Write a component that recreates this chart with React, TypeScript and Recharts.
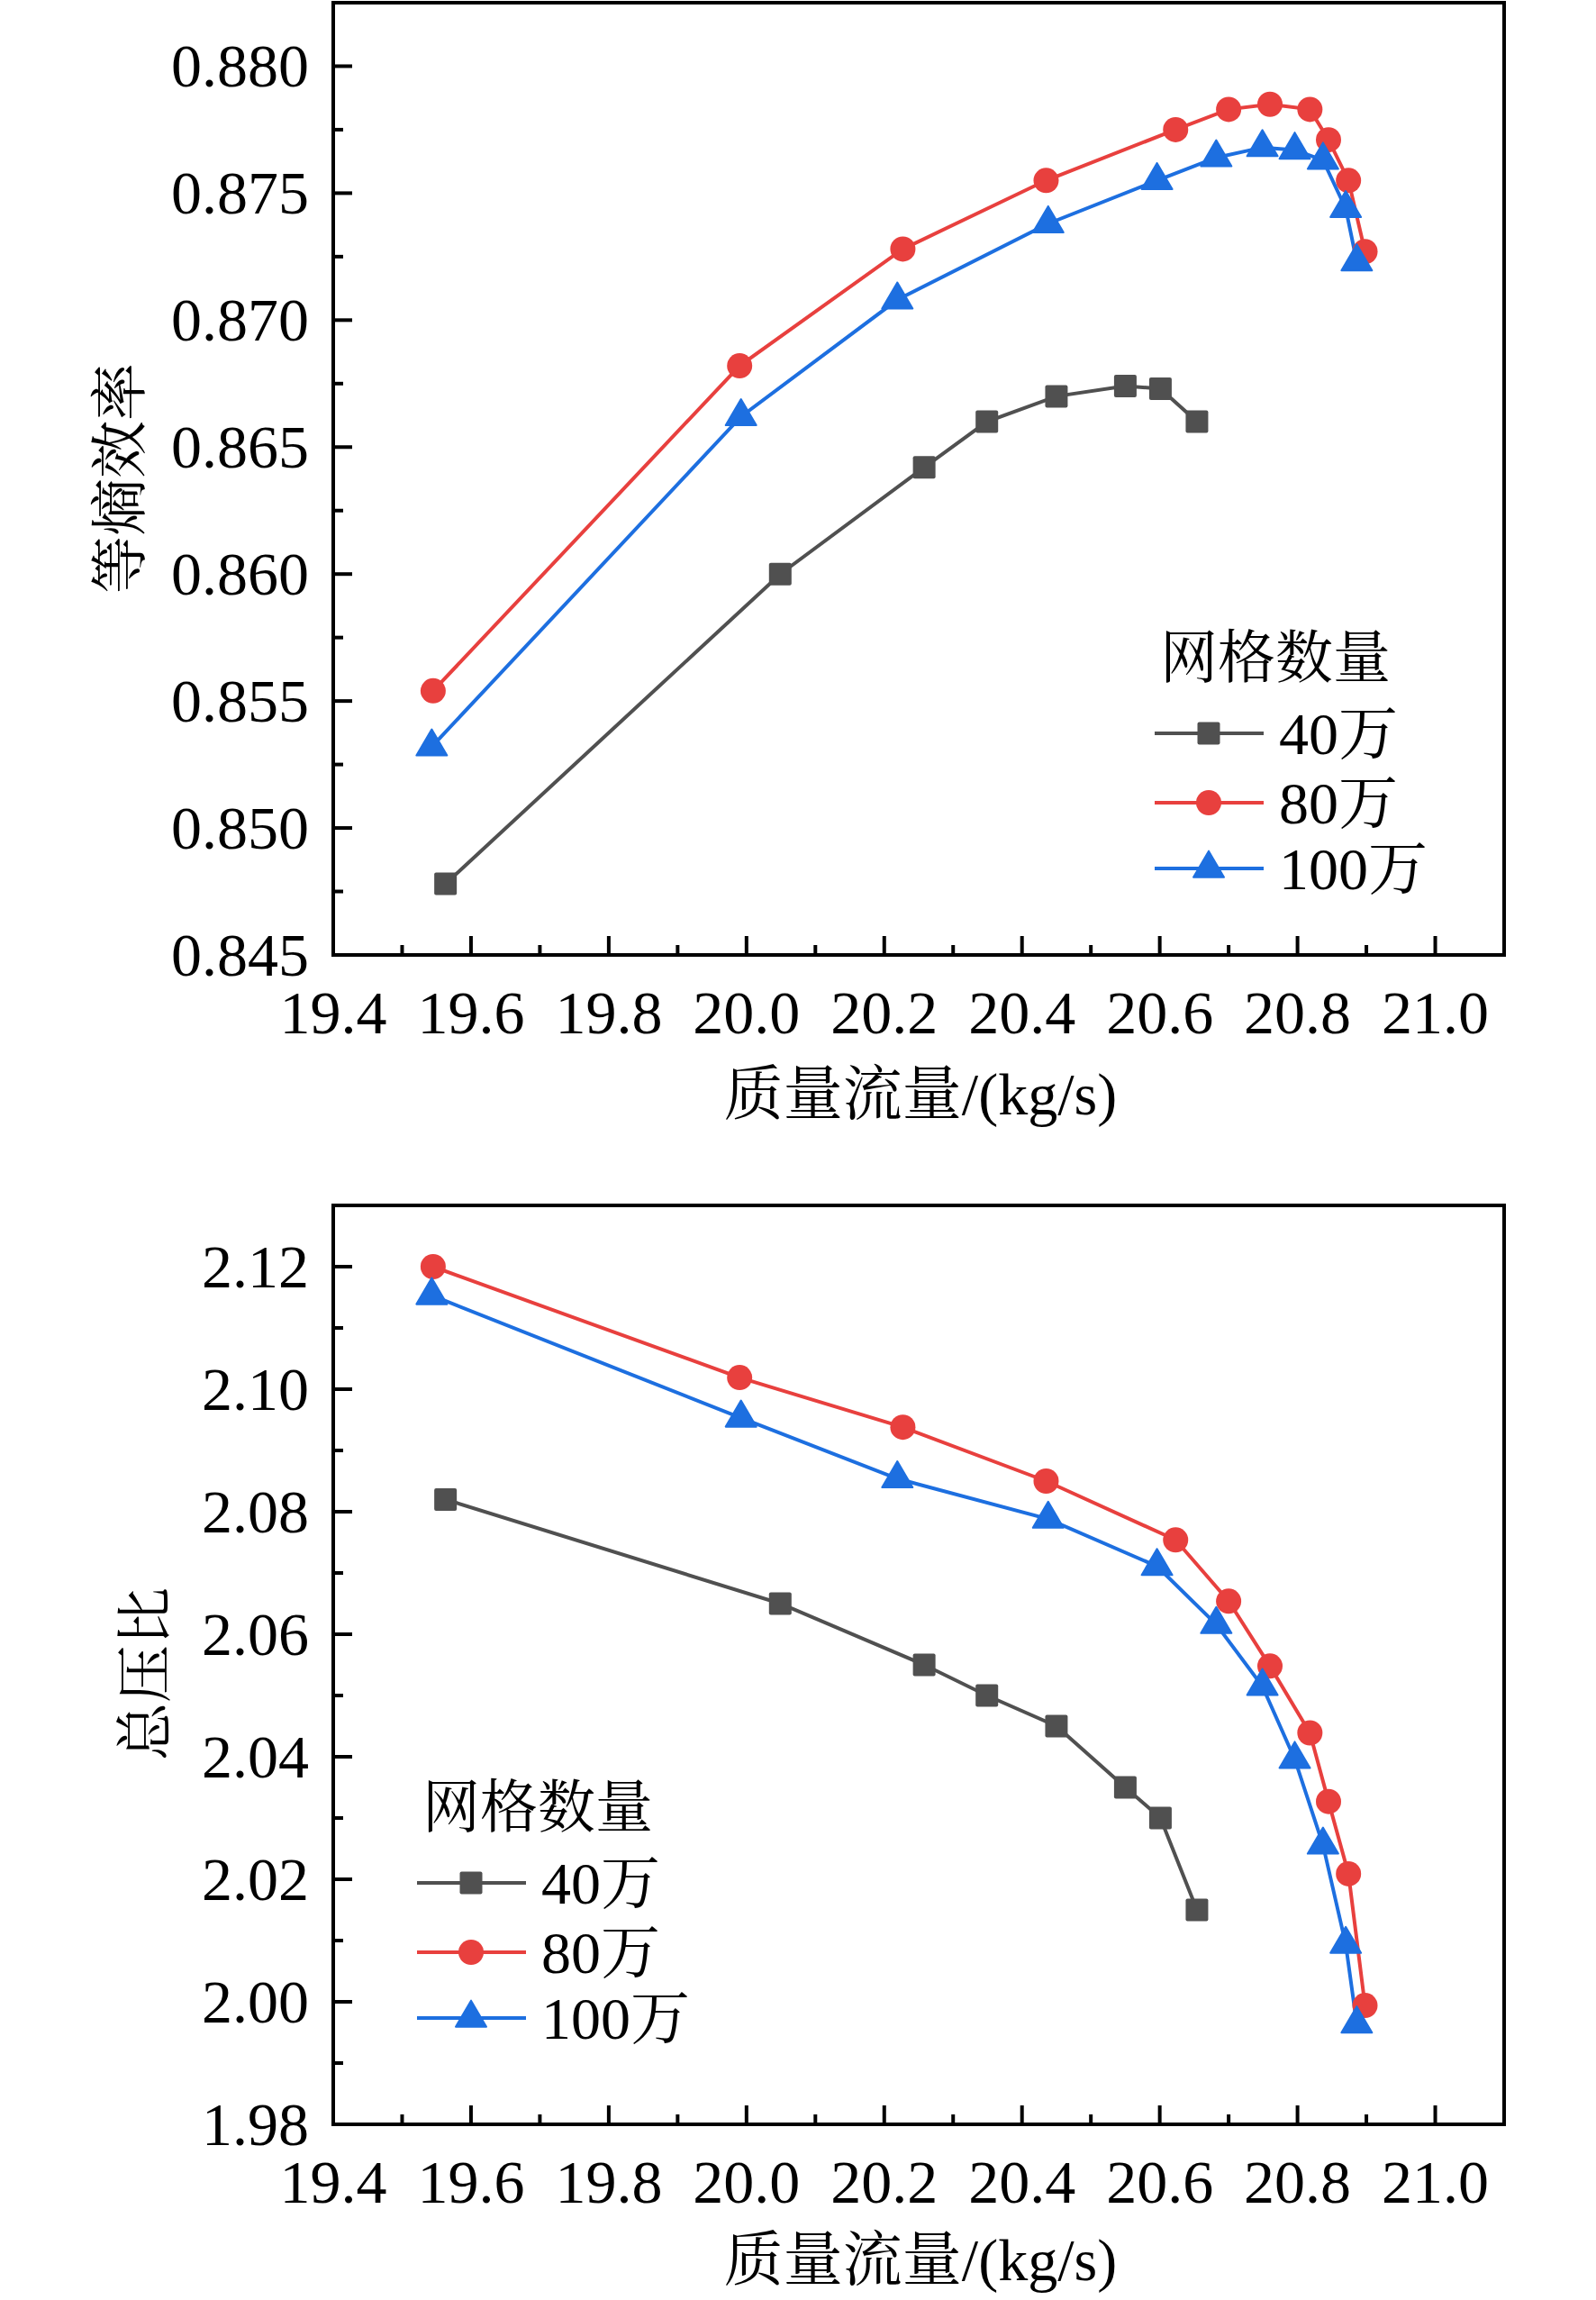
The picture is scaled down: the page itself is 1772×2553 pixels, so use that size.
import React from "react"
import { Line, LineChart, ReferenceArea, XAxis, YAxis } from "recharts"

// 质量流量 (kg/s) 各网格方案
const flow40 = [19.563, 20.049, 20.258, 20.349, 20.45, 20.55, 20.601, 20.654]
const flow80 = [19.545, 19.99, 20.227, 20.435, 20.623, 20.7, 20.76, 20.818, 20.845, 20.874, 20.898]
const flow100 = [19.543, 19.992, 20.219, 20.438, 20.596, 20.682, 20.749, 20.796, 20.837, 20.87, 20.886]

// 等熵效率
const eff40 = [0.8478, 0.86, 0.8642, 0.866, 0.867, 0.8674, 0.8673, 0.866]
const eff80 = [0.8554, 0.8682, 0.8728, 0.8755, 0.8775, 0.8783, 0.8785, 0.8783, 0.8771, 0.8755, 0.8727]
const eff100 = [0.8532, 0.8662, 0.8708, 0.8738, 0.8755, 0.8764, 0.8768, 0.8767, 0.8763, 0.8744, 0.8723]

// 总压比
const pr40 = [2.082, 2.065, 2.055, 2.05, 2.045, 2.035, 2.03, 2.015]
const pr80 = [2.12, 2.1019, 2.0938, 2.085, 2.0754, 2.0654, 2.0548, 2.0439, 2.0327, 2.0209, 1.9994]
const pr100 = [2.1153, 2.0953, 2.0854, 2.0788, 2.0711, 2.0616, 2.0515, 2.0396, 2.0256, 2.0094, 1.9964]

// ticks (major + minor, major on even index)
const xTicks = [19.4, 19.5, 19.6, 19.7, 19.8, 19.9, 20.0, 20.1, 20.2, 20.3, 20.4, 20.5, 20.6, 20.7, 20.8, 20.9, 21.0]
const effTicks = [0.845, 0.8475, 0.85, 0.8525, 0.855, 0.8575, 0.86, 0.8625, 0.865, 0.8675, 0.87, 0.8725, 0.875, 0.8775, 0.88]
const prTicks = [1.98, 1.99, 2.0, 2.01, 2.02, 2.03, 2.04, 2.05, 2.06, 2.07, 2.08, 2.09, 2.1, 2.11, 2.12]

const seriesNames = ["40万", "80万", "100万"]
const legendTitle = "网格数量"

const GRAY = "#505050"
const RED = "#e8403e"
const BLUE = "#1d6fe0"

const NUM_FONT = '"Liberation Serif", "Times New Roman", serif'
const CJK_FONT = '"Liberation Serif", "Noto Serif CJK SC", "Noto Sans CJK SC", serif'

const toPoints = (xs: number[], ys: number[]) => xs.map((x, i) => ({ x, y: ys[i] }))

function Square(props: any) {
  const { cx, cy } = props
  if (cx == null || cy == null) return null
  return <rect x={cx - 12.5} y={cy - 12.5} width={25} height={25} rx={2} fill={GRAY} />
}

function Circle(props: any) {
  const { cx, cy } = props
  if (cx == null || cy == null) return null
  return <circle cx={cx} cy={cy} r={14} fill={RED} />
}

function Triangle(props: any) {
  const { cx, cy } = props
  if (cx == null || cy == null) return null
  const w = 34
  const h = 29
  return (
    <polygon
      points={`${cx},${cy - (2 * h) / 3} ${cx - w / 2},${cy + h / 3} ${cx + w / 2},${cy + h / 3}`}
      fill={BLUE}
      strokeLinejoin="round"
      stroke={BLUE}
      strokeWidth={2}
    />
  )
}

function XTick(props: any) {
  const { x, y, payload, index } = props
  const major = index % 2 === 0
  return (
    <g>
      <line x1={x} y1={y} x2={x} y2={y - (major ? 21 : 11)} stroke="#000" strokeWidth={4} />
      {major ? (
        <text x={x} y={y + 64} textAnchor="middle" dominantBaseline="central" fontSize={68} fontFamily={NUM_FONT} fill="#000">
          {Number(payload.value).toFixed(1)}
        </text>
      ) : null}
    </g>
  )
}

function makeYTick(digits: number) {
  return function YTick(props: any) {
    const { x, y, payload, index } = props
    const major = index % 2 === 0
    return (
      <g>
        <line x1={x} y1={y} x2={x + (major ? 21 : 11)} y2={y} stroke="#000" strokeWidth={4} />
        {major ? (
          <text x={x - 27} y={y} textAnchor="end" dominantBaseline="central" fontSize={68} fontFamily={NUM_FONT} fill="#000">
            {Number(payload.value).toFixed(digits)}
          </text>
        ) : null}
      </g>
    )
  }
}

const EffTick = makeYTick(3)
const PrTick = makeYTick(2)

type PanelProps = {
  height: number
  top: number
  xAxisHeight: number
  yDomain: [number, number]
  yTicks: number[]
  yTick: (p: any) => React.ReactElement
  v40: number[]
  v80: number[]
  v100: number[]
}

function Panel(props: PanelProps) {
  const { height, top, xAxisHeight, yDomain, yTicks, yTick, v40, v80, v100 } = props
  return (
    <LineChart width={1772} height={height} margin={{ top, right: 102, bottom: 0, left: 0 }}>
      <XAxis
        type="number"
        dataKey="x"
        domain={[19.4, 21.1]}
        ticks={xTicks}
        interval={0}
        tickSize={0}
        tickMargin={0}
        tickLine={false}
        tick={XTick}
        height={xAxisHeight}
        axisLine={{ stroke: "#000", strokeWidth: 4 }}
        allowDataOverflow
      />
      <YAxis
        type="number"
        dataKey="y"
        domain={yDomain}
        ticks={yTicks}
        interval={0}
        tickSize={0}
        tickMargin={0}
        tickLine={false}
        tick={yTick}
        width={370}
        axisLine={{ stroke: "#000", strokeWidth: 4 }}
        allowDataOverflow
      />
      <ReferenceArea x1={19.4} x2={21.1} y1={yDomain[0]} y2={yDomain[1]} fill="none" fillOpacity={0} stroke="#000" strokeWidth={4} />
      <Line
        data={toPoints(flow40, v40)}
        dataKey="y"
        type="linear"
        stroke={GRAY}
        strokeWidth={4}
        dot={(p: any) => <Square key={`s${p.index}`} {...p} />}
        isAnimationActive={false}
      />
      <Line
        data={toPoints(flow80, v80)}
        dataKey="y"
        type="linear"
        stroke={RED}
        strokeWidth={4}
        dot={(p: any) => <Circle key={`c${p.index}`} {...p} />}
        isAnimationActive={false}
      />
      <Line
        data={toPoints(flow100, v100)}
        dataKey="y"
        type="linear"
        stroke={BLUE}
        strokeWidth={4}
        dot={(p: any) => <Triangle key={`t${p.index}`} {...p} />}
        isAnimationActive={false}
      />
    </LineChart>
  )
}

function LegendBlock({ x, y }: { x: number; y: number }) {
  // x: left of sample line, y: centre of title line
  const rows = [
    { name: seriesNames[0], color: GRAY, mark: <Square cx={x + 60} cy={y + 84} /> },
    { name: seriesNames[1], color: RED, mark: <Circle cx={x + 60} cy={y + 161} /> },
    { name: seriesNames[2], color: BLUE, mark: <Triangle cx={x + 60} cy={y + 234} /> },
  ]
  const rowY = [y + 84, y + 161, y + 234]
  return (
    <g>
      <text x={x + 6} y={y} dominantBaseline="central" fontSize={64} fontFamily={CJK_FONT} fill="#000">
        {legendTitle}
      </text>
      {rows.map((r, i) => (
        <g key={r.name}>
          <line x1={x} y1={rowY[i]} x2={x + 121} y2={rowY[i]} stroke={r.color} strokeWidth={4} />
          {r.mark}
          <text x={x + 138} y={rowY[i]} dominantBaseline="central" fontSize={66} fontFamily={CJK_FONT} fill="#000">
            {r.name}
          </text>
        </g>
      ))}
    </g>
  )
}

export default function App() {
  return (
    <div style={{ position: "absolute", left: 0, top: 0, width: 1772, height: 2553, background: "#fff" }}>
      <div style={{ position: "absolute", left: 0, top: 0 }}>
        <Panel
          height={1276}
          top={3}
          xAxisHeight={216}
          yDomain={[0.845, 0.8825]}
          yTicks={effTicks}
          yTick={EffTick}
          v40={eff40}
          v80={eff80}
          v100={eff100}
        />
      </div>
      <div style={{ position: "absolute", left: 0, top: 1276 }}>
        <Panel
          height={1277}
          top={62}
          xAxisHeight={195}
          yDomain={[1.98, 2.13]}
          yTicks={prTicks}
          yTick={PrTick}
          v40={pr40}
          v80={pr80}
          v100={pr100}
        />
      </div>
      <svg
        width={1772}
        height={2553}
        style={{ position: "absolute", left: 0, top: 0, pointerEvents: "none" }}
      >
        <text x={1022} y={1214} textAnchor="middle" dominantBaseline="central" fontSize={66} fontFamily={CJK_FONT} fill="#000">
          质量流量/(kg/s)
        </text>
        <text
          x={133}
          y={531}
          textAnchor="middle"
          dominantBaseline="central"
          fontSize={64}
          fontFamily={CJK_FONT}
          fill="#000"
          transform="rotate(-90 133 531)"
        >
          等熵效率
        </text>
        <text x={1022} y={2508} textAnchor="middle" dominantBaseline="central" fontSize={66} fontFamily={CJK_FONT} fill="#000">
          质量流量/(kg/s)
        </text>
        <text
          x={161}
          y={1858}
          textAnchor="middle"
          dominantBaseline="central"
          fontSize={64}
          fontFamily={CJK_FONT}
          fill="#000"
          transform="rotate(-90 161 1858)"
        >
          总压比
        </text>
        <LegendBlock x={1282} y={730} />
        <LegendBlock x={463} y={2006} />
      </svg>
    </div>
  )
}
